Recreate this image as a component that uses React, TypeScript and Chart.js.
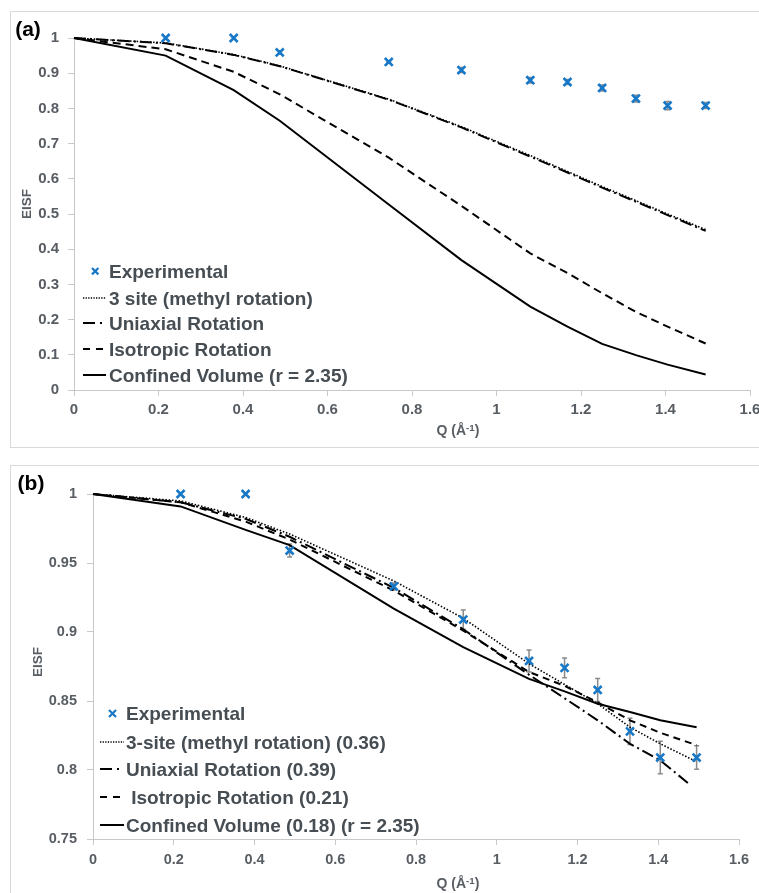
import React, { useEffect, useRef } from "react";
import { Chart, registerables } from "chart.js";

Chart.register(...registerables);

// ---------- DATA ----------
const qExp = [0.217, 0.378, 0.487, 0.745, 0.917, 1.08, 1.168, 1.25, 1.33, 1.405, 1.495];
const expA = [1, 1, 0.959, 0.932, 0.909, 0.88, 0.875, 0.858, 0.828, 0.808, 0.808];
const expB = [1, 1, 0.959, 0.933, 0.909, 0.879, 0.874, 0.858, 0.828, 0.809, 0.809];
const errExp = [0, 0, 0.0047, 0.0025, 0.007, 0.008, 0.0072, 0.0083, 0.0095, 0.0118, 0.0085];

const qModel = [0, 0.217, 0.378, 0.487, 0.745, 0.917, 1.08, 1.168, 1.25, 1.33, 1.405, 1.495];
const qModelUniaxialB = [0, 0.217, 0.378, 0.487, 0.745, 0.917, 1.08, 1.168, 1.25, 1.33, 1.405, 1.48];

const threeSiteA = [1, 0.986, 0.953, 0.921, 0.826, 0.748, 0.666, 0.621, 0.578, 0.538, 0.5, 0.456];
const uniaxialA = [1, 0.985, 0.952, 0.92, 0.825, 0.746, 0.663, 0.618, 0.575, 0.535, 0.497, 0.452];
const isotropicA = [1, 0.968, 0.904, 0.84, 0.66, 0.523, 0.388, 0.332, 0.275, 0.222, 0.18, 0.132];
const confinedA = [1, 0.95, 0.852, 0.765, 0.527, 0.369, 0.237, 0.18, 0.131, 0.099, 0.072, 0.044];

const threeSiteB = [1, 0.995, 0.983, 0.971, 0.937, 0.91, 0.877, 0.862, 0.848, 0.831, 0.819, 0.806];
const uniaxialB = [1, 0.994, 0.982, 0.969, 0.932, 0.902, 0.869, 0.852, 0.836, 0.819, 0.807, 0.789];
const isotropicB = [1, 0.994, 0.98, 0.967, 0.93, 0.901, 0.871, 0.861, 0.849, 0.836, 0.827, 0.818];
const confinedB = [1, 0.991, 0.974, 0.963, 0.917, 0.889, 0.866, 0.857, 0.848, 0.842, 0.836, 0.831];

const xTickValues = [0, 0.2, 0.4, 0.6, 0.8, 1, 1.2, 1.4, 1.6];
const yTickValuesA = [0, 0.1, 0.2, 0.3, 0.4, 0.5, 0.6, 0.7, 0.8, 0.9, 1];
const yTickValuesB = [0.75, 0.8, 0.85, 0.9, 0.95, 1];

const legendLabelsA = [
  "Experimental",
  "3 site (methyl rotation)",
  "Uniaxial Rotation",
  "Isotropic Rotation",
  "Confined Volume (r = 2.35)",
];
const legendLabelsB = [
  "Experimental",
  "3-site (methyl rotation) (0.36)",
  "Uniaxial Rotation (0.39)",
  " Isotropic Rotation (0.21)",
  "Confined Volume (0.18) (r = 2.35)",
];
const panelLabels = ["(a)", "(b)"];
const yTitle = "EISF";

// ---------- STYLE ----------
const FONT = "'Liberation Sans', Arial, sans-serif";
const BLUE = "#1878c8";
const AXIS = "#c8c8c8";
const BOX = "#d9d9d9";
const TICK_COLOR = "#575d63";
const LEGEND_COLOR = "#464d53";
const ERR_COLOR = "#8a8a8a";

type Kind = "exp" | "dot" | "dashdot" | "dash" | "solid";
const kinds: Kind[] = ["exp", "dot", "dashdot", "dash", "solid"];

const pts = (xs: number[], ys: number[]) => xs.map((x, i) => ({ x, y: ys[i] }));

function lineDs(label: string, xs: number[], ys: number[], kind: Kind) {
  const base: any = {
    label,
    data: pts(xs, ys),
    showLine: true,
    pointRadius: 0,
    pointHoverRadius: 0,
    borderColor: "#000",
    backgroundColor: "#000",
    fill: false,
    tension: 0,
    clip: false,
  };
  if (kind === "dot") {
    base.borderWidth = 1.6;
    base.borderDash = [1.5, 1.8];
  } else if (kind === "dashdot") {
    base.borderWidth = 2;
    base.borderDash = [12, 4, 2, 4];
  } else if (kind === "dash") {
    base.borderWidth = 2;
    base.borderDash = [8, 5];
  } else {
    base.borderWidth = 2;
  }
  return base;
}

function expDs(label: string, ys: number[]) {
  return {
    label,
    data: pts(qExp, ys),
    showLine: false,
    pointStyle: "crossRot",
    pointRadius: 5.6,
    pointHoverRadius: 5.6,
    pointBorderWidth: 2.6,
    borderColor: BLUE,
    backgroundColor: BLUE,
    clip: false,
  };
}

const errorBarPlugin = {
  id: "errorBars",
  beforeDatasetsDraw(chart: any, _args: any, opts: any) {
    const errs: number[] = opts && opts.errors;
    if (!errs) return;
    const meta = chart.getDatasetMeta(0);
    const data = chart.data.datasets[0].data;
    const ys = chart.scales.y;
    const ctx = chart.ctx;
    ctx.save();
    ctx.strokeStyle = ERR_COLOR;
    ctx.lineWidth = 1.5;
    meta.data.forEach((el: any, i: number) => {
      const e = errs[i];
      if (!e) return;
      const v = data[i].y;
      const x = el.x;
      const y1 = ys.getPixelForValue(v + e);
      const y2 = ys.getPixelForValue(v - e);
      ctx.beginPath();
      ctx.moveTo(x, y1);
      ctx.lineTo(x, y2);
      ctx.moveTo(x - 2.5, y1);
      ctx.lineTo(x + 2.5, y1);
      ctx.moveTo(x - 2.5, y2);
      ctx.lineTo(x + 2.5, y2);
      ctx.stroke();
    });
    ctx.restore();
  },
};

function makeConfig(p: {
  datasets: any[];
  yMin: number;
  yMax: number;
  yTicks: number[];
  yWidth: number;
  xHeight: number;
  padding: { left: number; right: number; top: number; bottom: number };
  fontSize: number;
  xPad: number;
  yPad: number;
}) {
  return {
    type: "scatter",
    data: { datasets: p.datasets },
    plugins: [errorBarPlugin],
    options: {
      animation: false,
      responsive: false,
      maintainAspectRatio: false,
      events: [],
      layout: { padding: p.padding },
      plugins: {
        legend: { display: false },
        tooltip: { enabled: false },
        errorBars: { errors: errExp },
      },
      scales: {
        x: {
          type: "linear",
          min: 0,
          max: 1.6,
          afterBuildTicks: (s: any) => {
            s.ticks = xTickValues.map((v) => ({ value: v }));
          },
          afterFit: (s: any) => {
            s.height = p.xHeight;
          },
          grid: { drawOnChartArea: false, drawTicks: true, tickLength: 6, color: AXIS, lineWidth: 1 },
          border: { display: true, color: AXIS, width: 1 },
          ticks: {
            autoSkip: false,
            maxRotation: 0,
            padding: p.xPad,
            color: TICK_COLOR,
            font: { family: FONT, size: p.fontSize, weight: "bold" },
            callback: (v: any) => String(v),
          },
        },
        y: {
          type: "linear",
          min: p.yMin,
          max: p.yMax,
          afterBuildTicks: (s: any) => {
            s.ticks = p.yTicks.map((v) => ({ value: v }));
          },
          afterFit: (s: any) => {
            s.width = p.yWidth;
          },
          grid: { drawOnChartArea: false, drawTicks: true, tickLength: 6, color: AXIS, lineWidth: 1 },
          border: { display: true, color: AXIS, width: 1 },
          ticks: {
            autoSkip: false,
            padding: p.yPad,
            color: TICK_COLOR,
            font: { family: FONT, size: p.fontSize, weight: "bold" },
            callback: (v: any) => String(v),
          },
        },
      },
    },
  };
}

function ChartCanvas(props: { config: any; left: number; top: number; width: number; height: number }) {
  const ref = useRef<HTMLCanvasElement>(null);
  useEffect(() => {
    const chart = new Chart(ref.current as HTMLCanvasElement, props.config);
    return () => chart.destroy();
  }, []);
  return (
    <canvas
      ref={ref}
      width={props.width}
      height={props.height}
      style={{
        position: "absolute",
        left: props.left,
        top: props.top,
        width: props.width,
        height: props.height,
      }}
    />
  );
}

function Text(props: {
  x: number;
  y: number;
  size: number;
  color: string;
  children: any;
  rotate?: boolean;
  align?: "left" | "center";
}) {
  const center = props.align !== "left";
  return (
    <div
      style={{
        position: "absolute",
        left: props.x,
        top: props.y,
        transform: (center ? "translate(-50%, -50%)" : "translateY(-50%)") + (props.rotate ? " rotate(-90deg)" : ""),
        fontFamily: FONT,
        fontWeight: "bold",
        fontSize: props.size,
        color: props.color,
        lineHeight: 1,
        whiteSpace: "pre",
      }}
    >
      {props.children}
    </div>
  );
}

function Sample(props: { kind: Kind; x0: number; x1: number; cy: number; markerX: number; markerR: number }) {
  const { kind, x0, x1, cy } = props;
  if (kind === "exp") {
    const r = props.markerR;
    return (
      <svg
        style={{ position: "absolute", left: props.markerX - r - 2, top: cy - r - 2 }}
        width={2 * r + 4}
        height={2 * r + 4}
      >
        <path
          d={`M2 2 L${2 * r + 2} ${2 * r + 2} M${2 * r + 2} 2 L2 ${2 * r + 2}`}
          stroke={BLUE}
          strokeWidth={2.2}
          fill="none"
        />
      </svg>
    );
  }
  const w = x1 - x0;
  let dash: string | undefined;
  let sw = 2;
  if (kind === "dot") {
    dash = "1.3 1.3";
    sw = 1.4;
  } else if (kind === "dashdot") {
    dash = "12 5 2 20";
  } else if (kind === "dash") {
    dash = "7 6";
  }
  return (
    <svg style={{ position: "absolute", left: x0, top: cy - 4 }} width={w} height={8}>
      <line x1={0} y1={4} x2={w} y2={4} stroke="#000" strokeWidth={sw} strokeDasharray={dash} />
    </svg>
  );
}

function Legend(props: {
  labels: string[];
  rows: number[];
  textLeft: number;
  x0: number;
  x1: number;
  markerX: number;
  markerR: number;
}) {
  return (
    <>
      {props.labels.map((lab, i) => (
        <React.Fragment key={i}>
          <Sample
            kind={kinds[i]}
            x0={props.x0}
            x1={props.x1}
            cy={props.rows[i]}
            markerX={props.markerX}
            markerR={props.markerR}
          />
          <Text x={props.textLeft} y={props.rows[i]} size={19} color={LEGEND_COLOR} align="left">
            {lab}
          </Text>
        </React.Fragment>
      ))}
    </>
  );
}

export default function App() {
  const dsA = [
    expDs(legendLabelsA[0], expA),
    lineDs(legendLabelsA[1], qModel, threeSiteA, "dot"),
    lineDs(legendLabelsA[2], qModel, uniaxialA, "dashdot"),
    lineDs(legendLabelsA[3], qModel, isotropicA, "dash"),
    lineDs(legendLabelsA[4], qModel, confinedA, "solid"),
  ];
  const dsB = [
    expDs(legendLabelsB[0], expB),
    lineDs(legendLabelsB[1], qModel, threeSiteB, "dot"),
    lineDs(legendLabelsB[2], qModelUniaxialB, uniaxialB, "dashdot"),
    lineDs(legendLabelsB[3], qModel, isotropicB, "dash"),
    lineDs(legendLabelsB[4], qModel, confinedB, "solid"),
  ];
  dsB[3].borderDash = [7, 5];

  // canvas A: 790x450 at page (0,0) -> plot area x 74..750, y 38..390
  const cfgA = makeConfig({
    datasets: dsA,
    yMin: 0,
    yMax: 1,
    yTicks: yTickValuesA,
    yWidth: 74,
    xHeight: 40,
    padding: { left: 0, right: 40, top: 38, bottom: 20 },
    fontSize: 15,
    xPad: 5,
    yPad: 9,
  });
  // canvas B: 790x443 at page (0,450) -> plot area x 93..739, y 494..839
  const cfgB = makeConfig({
    datasets: dsB,
    yMin: 0.75,
    yMax: 1,
    yTicks: yTickValuesB,
    yWidth: 93,
    xHeight: 40,
    padding: { left: 0, right: 51, top: 44, bottom: 14 },
    fontSize: 14.5,
    xPad: 6,
    yPad: 10,
  });

  const xTitle = (
    <>
      Q (Å<sup style={{ fontSize: "0.7em", verticalAlign: "0.45em", lineHeight: 0 }}>-1</sup>)
    </>
  );

  return (
    <div
      style={{
        position: "absolute",
        left: 0,
        top: 0,
        width: 759,
        height: 893,
        overflow: "hidden",
        background: "#fff",
      }}
    >
      <div
        style={{
          position: "absolute",
          left: 10,
          top: 11,
          width: 760,
          height: 437,
          border: `1px solid ${BOX}`,
          boxSizing: "border-box",
        }}
      />
      <div
        style={{
          position: "absolute",
          left: 10,
          top: 465,
          width: 760,
          height: 450,
          border: `1px solid ${BOX}`,
          boxSizing: "border-box",
        }}
      />
      <ChartCanvas config={cfgA} left={0} top={0} width={790} height={450} />
      <ChartCanvas config={cfgB} left={0} top={450} width={790} height={443} />

      <Text x={28} y={28} size={21} color="#000">
        {panelLabels[0]}
      </Text>
      <Text x={31} y={482} size={21} color="#000">
        {panelLabels[1]}
      </Text>

      <Text x={27} y={204} size={13.5} color={TICK_COLOR} rotate>
        {yTitle}
      </Text>
      <Text x={38} y={662} size={13.5} color={TICK_COLOR} rotate>
        {yTitle}
      </Text>

      <Text x={458} y={430} size={14} color={TICK_COLOR}>
        {xTitle}
      </Text>
      <Text x={458} y={883} size={14} color={TICK_COLOR}>
        {xTitle}
      </Text>

      <Legend
        labels={legendLabelsA}
        rows={[271, 297.5, 323, 349, 375]}
        textLeft={109}
        x0={83}
        x1={106}
        markerX={95}
        markerR={3.2}
      />
      <Legend
        labels={legendLabelsB}
        rows={[713, 741.5, 769, 797, 824.5]}
        textLeft={126}
        x0={100}
        x1={124}
        markerX={112}
        markerR={3.5}
      />
    </div>
  );
}
